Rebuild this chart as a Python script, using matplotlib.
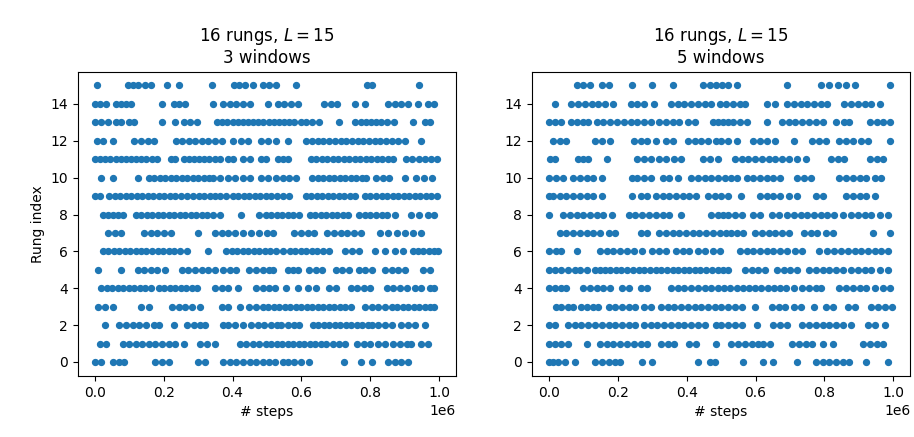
import numpy as np
import matplotlib
matplotlib.use("Agg")
import matplotlib.pyplot as plt

# x positions of the samples on each rung, in units of 1e4 steps
rungs = list(range(16))

# panel 1: 3 windows
steps_3w = {
    15: [0.5, 9.5, 11, 12.5, 14.5, 16.3, 21, 24.4, 34, 40.5, 42, 43.5, 46, 49, 50.5, 52.5, 58.4, 79, 80.5, 94.3],
    14: [0, 1.4, 3.3, 6.1, 7.6, 9, 10.5, 19.6, 22.9, 24.3, 26.3, 34.4, 37.3, 39.2, 41.1, 43, 45, 50.2, 53.2, 55.1,
         57, 59, 66.6, 68.5, 70.4, 75.7, 78.5, 85.2, 87.1, 89, 91, 93.8, 96.7, 98.6],
    13: [0, 1.8, 3.7, 6.1, 7.6, 10, 11.4, 19.6, 23.4, 25.8, 27.7, 29.6, 35.4, 37, 38.5, 40, 41.5, 43, 44.5, 46,
         47.5, 49, 50.5, 52, 53.5, 55, 56.5, 58, 60, 61.5, 63, 65, 70.9, 75.7, 77.2, 78.7, 80.2, 81.7, 83.2, 85, 87,
         92.4, 96, 97.5],
    12: [0.5, 2.4, 5.3, 11.5, 13.4, 15.3, 17.2, 23.5, 25.4, 27.3, 29.2, 31.1, 33, 35, 36.9, 40.2, 42.6, 44.5, 48.4,
         50.3, 52.5, 56, 61.3, 63, 64.7, 66.4, 68, 69.7, 71.4, 73, 74.7, 76.4, 78, 79.7, 81.4, 83, 84.7, 86.4, 88, 90,
         94.8],
    11: [0, 1.5, 3, 4.5, 6, 7.5, 9, 10.5, 12, 13.5, 14.8, 16.7, 18.1, 22, 23.4, 25.8, 27.3, 28.8, 30.3, 31.8, 33.3,
         34.8, 36.3, 38.7, 40.1, 43, 45, 48.3, 49.8, 53.2, 54.6, 56, 62.7, 64.3, 65.9, 67.5, 69.1, 70.7, 72.3, 73.9,
         75.5, 77.1, 78.7, 80.3, 81.9, 83.5, 85.1, 86.7, 90.5, 92.3, 94.1, 95.9, 97.7, 99.5],
    10: [1.8, 5.2, 12.4, 15.7, 17.3, 18.9, 20.5, 22.1, 23.7, 25.3, 26.9, 28.5, 30.1, 31.7, 33.3, 34.4, 36.3, 38.7,
         40.6, 43, 45, 48.3, 50.2, 52.7, 54.6, 56.5, 58.4, 63.2, 64.8, 66.4, 68, 69.6, 71.2, 72.8, 74.4, 76, 77.6,
         78.8, 81.8, 83.7, 85.6, 90, 93.3, 95.7, 98],
    9: [0, 1.4, 4.2, 5.8, 7.4, 9, 10.6, 12.2, 13.8, 15.4, 17, 18.6, 20.2, 21.8, 23.4, 25, 26.7, 28.6, 30.2, 31.8,
        33.4, 35, 36.3, 38.2, 40.1, 41.7, 43.3, 44.9, 46.5, 48.1, 49.7, 51.2, 52.8, 54.6, 56.5, 61.3, 62.9, 64.5,
        66.1, 67.7, 69.3, 70.9, 72.5, 74.1, 75.7, 78.5, 80.1, 81.7, 83.3, 84.9, 86.5, 88.1, 89.7, 91.3, 92.9, 94.5,
        96.1, 97.7, 99.5],
    8: [2.3, 3.7, 5.2, 6.6, 8.1, 11.9, 13.5, 15.1, 16.7, 18.3, 19.9, 21.5, 23.1, 24.7, 26.3, 27.9, 29.5, 31.1, 32.7,
        34.3, 36.3, 42.5, 47.8, 49.7, 51.3, 52.9, 54.5, 56.1, 57.7, 59.3, 62.5, 64.1, 65.7, 67.3, 68.9, 70.5, 72.1,
        73.7, 76.9, 78.5, 80.1, 81.7, 83.3, 84.9, 87.2, 91.9, 94.3, 96.7, 98.6],
    7: [3.7, 5.7, 7.6, 14.3, 16.2, 18.1, 20, 22, 30.1, 34.9, 36.8, 38.7, 40.6, 43, 45.4, 47.8, 49.9, 51.8, 58, 59.9,
        61.8, 63.7, 67.6, 69.5, 71.4, 73.3, 75.2, 77.2, 82.9, 85.3, 87.7, 90.1, 92.5, 94.9],
    6: [2.3, 3.9, 5.5, 7.1, 8.7, 10.3, 11.9, 13.5, 14.8, 16.7, 18.3, 19.9, 21.5, 23.1, 24.7, 26.7, 33, 38.2, 39.8,
        41.4, 43, 44.6, 46.2, 47.8, 49.4, 51, 52.6, 54.6, 56.6, 58.2, 59.8, 61.4, 63, 64.6, 66.2, 68.1, 72.8, 74.8,
        76.7, 81.5, 84.3, 87.2, 89.6, 92.5, 94, 95.5, 97, 98.5, 99.7],
    5: [0.9, 7.6, 12.4, 14.3, 16.2, 18.1, 20.5, 25.3, 27.2, 29.1, 31, 33, 34.9, 37.3, 39.2, 41.1, 44.9, 46.8, 48.8,
        50.7, 51.8, 56.1, 57.5, 59, 62.3, 64.2, 66.1, 70, 71.9, 73.8, 76.7, 78.6, 80.5, 84.3, 86.3, 88.2, 90.1, 95.4,
        97.3],
    4: [1.8, 3.4, 5, 6.6, 8.2, 9.8, 11.4, 13, 14.6, 16.2, 18.6, 20.2, 21.8, 23.4, 25, 26.6, 28.2, 29.6, 34.9, 36.8,
        38.7, 41.6, 46.8, 48.8, 50.7, 52.3, 55.6, 59, 61.8, 64.2, 68.1, 70, 74.3, 76.2, 78.1, 80, 84.8, 86.7, 88.7,
        90.6, 93, 94.9, 97.3, 98.7],
    3: [0.9, 2.8, 5.2, 13.3, 15.7, 22.4, 24.3, 26.3, 28.2, 30.6, 36.8, 38.7, 42.1, 44.9, 46.8, 48.8, 50.4, 52, 53.6,
        55.2, 56.8, 58.4, 60, 61.6, 63.2, 64.8, 66.4, 68, 69.6, 71.2, 72.8, 74.3, 78.6, 80.5, 82.4, 84.3, 86.3, 87.9,
        89.5, 91.1, 92.7, 94.3, 95.9, 97.5, 98.7],
    2: [2.8, 7.1, 9, 11, 12.8, 14.8, 17.2, 18.6, 22.9, 26.7, 28.7, 30.6, 32, 37.3, 38.7, 40.6, 43, 45.4, 47.3, 49.2,
        51.2, 52.8, 54.2, 56.1, 58, 59.4, 63.3, 64.9, 66.5, 68.1, 69.7, 71.3, 72.9, 74.5, 76.1, 77.7, 79.3, 80.5,
        82.4, 84.3, 86.3, 89.1, 91, 93, 95.8],
    1: [1.4, 3.3, 8.1, 10, 11.9, 13.8, 15.7, 17.6, 19.6, 21.5, 23.4, 25.8, 30.6, 32.5, 34.9, 42.1, 44, 45.9, 47.8,
        49.7, 51.3, 52.9, 54.5, 56.1, 57.7, 59.3, 60.9, 62.5, 64.1, 65.7, 67.1, 69.2, 70.9, 72.8, 76.2, 78.1, 80,
        82.4, 84.3, 86.7, 88.7, 90.6, 92, 94.9, 96.8],
    0: [0, 1.8, 5.2, 7.1, 8.5, 17.6, 19.6, 21.5, 30.1, 32, 37.3, 39.2, 41.1, 43, 45, 46.9, 48.8, 50.7, 52.3, 54.6,
        56.1, 58, 59.9, 62.3, 72.4, 77.2, 80.5, 85.3, 87.2, 89.1, 91],
}

# panel 2: 5 windows
steps_5w = {
    15: [8, 9.9, 11.9, 15.3, 17.3, 24.1, 30, 35.9, 44.7, 46.7, 48.6, 50.3, 52, 54.5, 69.2, 79, 81.4, 83.9, 86.3,
         88.8, 99.1],
    14: [1.6, 6.5, 8.5, 10.4, 12.4, 14.3, 16.3, 18.7, 23.7, 25.6, 27.6, 30.5, 35.4, 37.4, 39.3, 41.3, 43.3, 45.2,
         47.2, 49.6, 51.5, 53.5, 55.4, 56.9, 63.3, 65.7, 69.2, 71.1, 73.1, 75, 77, 79, 80.9, 85.8, 87.8, 89.8, 91.7,
         93.7, 96.1],
    13: [0, 1.7, 3.6, 6.5, 8, 9.9, 11.4, 13.8, 15.8, 17.8, 19.7, 21.7, 23.7, 25.6, 27.6, 29.5, 32, 34, 35.9, 37.9,
         40.3, 42.3, 47.5, 49.1, 50.6, 52.1, 53.6, 55.4, 57.4, 63.3, 67.7, 69.7, 71.6, 73.6, 75.5, 77.5, 79.5, 83.4,
         85.8, 87.3, 93.2, 95.2, 97.1, 99],
    12: [1.1, 3.1, 5, 13.4, 15.3, 17.8, 24.6, 26.6, 28.6, 31, 33.9, 35.9, 40.3, 42.3, 44.2, 46.2, 48.6, 50, 52, 54.5,
         59.4, 61.3, 63.3, 65.7, 71.1, 76.5, 78.5, 80.4, 84.4, 86.3, 88.3, 90.7, 92.7, 99.1],
    11: [0.3, 1.6, 8.5, 9.9, 11.4, 16.8, 25.6, 27.6, 29.5, 32, 34, 36.4, 38.4, 44.7, 46.7, 49.1, 54, 56, 57.9, 59.9,
         61.8, 63.8, 65.7, 67.7, 69.7, 72.1, 74.6, 81.9, 83.9, 85.8, 93.2, 95.2, 97.1],
    10: [0.1, 2.1, 4, 7, 9, 10.9, 12.9, 15.3, 24.1, 25.6, 27.6, 29.5, 33, 34.9, 37.4, 41.3, 43.3, 45.2, 47.2, 49.1,
         51, 52.9, 54.5, 57.4, 59.4, 61.3, 63.3, 65.2, 67.2, 72.1, 74.1, 76, 84.4, 86.3, 88.3, 90.3, 92.2, 94.7, 96.6],
    9: [0, 1.1, 3.1, 5, 7, 9, 10.9, 12.9, 15.3, 24.1, 26.6, 28.6, 31, 33, 34.9, 36.9, 38.9, 40.8, 42.8, 46.2, 48.2,
        50, 52, 55.9, 61.3, 63.3, 65.2, 67.2, 69.7, 72.1, 77.5, 79.5, 86.3, 88.3, 90.3, 92.2, 94.7],
    8: [0, 4, 6, 8, 9.9, 11.9, 13.8, 15.8, 18.3, 23.2, 25.1, 27.1, 29, 31, 33, 34.9, 38.4, 47.2, 49.1, 50.5, 52, 54,
        56, 59.4, 61.3, 64.8, 66.7, 69.2, 71.1, 73.1, 75, 77, 79, 80.9, 82.9, 85.3, 87.8, 89.8, 91.7, 93.7, 96.1,
        98.6],
    7: [3.1, 5, 7, 9, 10.9, 12.9, 14.8, 17.3, 19.2, 26.6, 28.6, 32, 34, 35.9, 37.9, 39.8, 41.8, 43.7, 45.7, 47.7,
        49.6, 51.5, 53, 54.5, 56.4, 59.9, 61.8, 63.8, 65.7, 67.7, 69.7, 74.1, 76, 78, 80.4, 82.4, 94.2, 99.1],
    6: [0, 2.1, 3.6, 8, 14.8, 16.8, 18.7, 20.7, 22.7, 24.6, 27.1, 30, 32, 34, 36.9, 38.9, 40.8, 43.3, 45.2, 47.7,
        49.6, 55.4, 57.4, 59.4, 61.3, 63.3, 65.2, 67.2, 69.2, 71.6, 73.6, 78.5, 80.9, 82.9, 84.9, 86.8, 88.8, 90.7,
        92.7, 94.7, 96.6, 98.6],
    5: [0.1, 1.6, 3.6, 5.5, 7.5, 9, 10.9, 13.4, 14.8, 16.3, 17.8, 19.5, 21, 22.7, 24.3, 26, 27.6, 29.3, 31, 32.6,
        34.2, 35.9, 37.5, 39.2, 40.8, 42.5, 44, 45.7, 47.3, 49, 50.6, 52, 56.9, 58.9, 60.8, 62.8, 66.2, 68.2, 70.1,
        72.1, 75.5, 77.5, 79.5, 81.4, 83.4, 85.3, 87.8, 89.8, 91.7, 93.7, 96.1, 98.6],
    4: [0, 1.6, 3.6, 5, 9.9, 11.9, 13.8, 15.8, 17.8, 21.2, 23.2, 26.6, 28.6, 35.4, 37.4, 39.3, 41.3, 43.3, 45.2, 47.2,
        49.1, 50.9, 52.7, 54.5, 56.3, 58.1, 59.9, 61.7, 63.5, 65.3, 67.1, 68.9, 71.1, 73.6, 75.5, 77.5, 79, 84.4,
        86.3, 88.3, 90.3, 92.2, 94.7, 97.1, 99],
    3: [2.1, 3.6, 5.5, 7, 9.4, 10.9, 12.9, 14.3, 17.3, 19.2, 21.2, 23.2, 25.1, 27.6, 29.5, 32.5, 34.5, 36.4, 38.4,
        40.3, 42.3, 44.2, 46.2, 48.2, 50.1, 52, 54, 56, 59.9, 64.8, 66.7, 68.7, 71.1, 73.1, 77, 80.4, 82.4, 86.8,
        88.8, 93.7, 95.6, 97.6, 99.6],
    2: [0, 1.6, 5.5, 7.5, 9.4, 11.4, 13.4, 15.3, 17.3, 19.2, 21.2, 23.2, 25.1, 27.6, 29.5, 31.5, 33.5, 35.4, 37.4,
        39.3, 41.3, 43.3, 45.2, 48.6, 50.1, 52, 54, 56, 60.3, 65.2, 67.2, 69.2, 73.6, 75.5, 77.5, 79.5, 81.4, 83.4,
        85.3, 87.8, 92.7, 94.7, 97.6],
    1: [0.1, 1.6, 3.6, 5.5, 10.9, 14.8, 16.8, 18.7, 20.7, 22.7, 24.6, 26.6, 28.6, 32.5, 34.5, 36.4, 40.8, 42.8, 48.6,
        53, 55, 56.9, 58.9, 60.8, 62.3, 64.3, 70.6, 72.6, 74.6, 76.5, 79.5, 82.4, 91.2, 93.2, 95.2, 97.1],
    0: [0, 1.1, 2.6, 4.5, 7.5, 13.4, 15.3, 17.3, 19.2, 20.7, 27.1, 30, 43.3, 46.7, 48.1, 56.4, 62.3, 65.2, 72.1,
        77.5, 79.5, 81.4, 83.4, 85.3, 87.3, 92.2, 98.6],
}

panels = [(steps_3w, "3 windows"), (steps_5w, "5 windows")]


def flatten(steps):
    xs, ys = [], []
    for r in rungs:
        xs += [v * 1e4 for v in steps[r]]
        ys += [r] * len(steps[r])
    return np.array(xs), np.array(ys)


fig, axes = plt.subplots(1, 2, figsize=(9.14, 4.37), dpi=100)
fig.subplots_adjust(left=0.085, right=0.996, bottom=0.14, top=0.836, wspace=0.2)

for ax, (steps, label) in zip(axes, panels):
    x, y = flatten(steps)
    ax.scatter(x, y, s=18, color="#1f77b4")
    ax.set_xlim(-0.05e6, 1.05e6)
    ax.set_ylim(-0.75, 15.75)
    ax.set_yticks(range(0, 15, 2))
    ax.set_xlabel("# steps")
    ax.set_title("16 rungs, $L = 15$\n" + label)

axes[0].set_ylabel("Rung index")

fig.savefig("out.png", dpi=100)
plt.close()
